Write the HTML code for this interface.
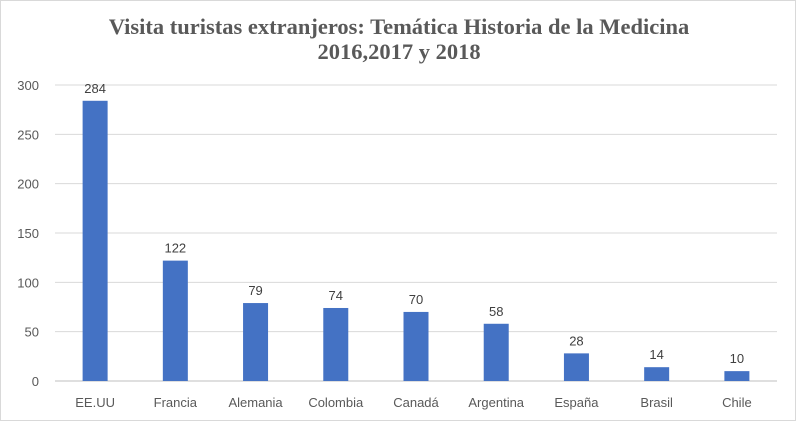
<!DOCTYPE html>
<html><head><meta charset="utf-8">
<style>
html,body{margin:0;padding:0;background:#fff;}
#wrap{width:796px;height:421px;position:relative;box-sizing:border-box;border:1px solid #d9d9d9;}
svg{position:absolute;left:0;top:0;}
</style></head>
<body>
<div id="wrap">
<svg id="chart" width="796" height="421">
<text x="398" y="33" text-anchor="middle" font-family="Liberation Serif, serif" font-weight="bold" font-size="22.5" fill="#595959">Visita turistas extranjeros: Temática Historia de la Medicina</text>
<text x="398" y="58" text-anchor="middle" font-family="Liberation Serif, serif" font-weight="bold" font-size="22.5" fill="#595959">2016,2017 y 2018</text>
</svg>
</div>
<script>
const categories = ["EE.UU","Francia","Alemania","Colombia","Canadá","Argentina","España","Brasil","Chile"];
const values = [284,122,79,74,70,58,28,14,10];
const yTicks = [0,50,100,150,200,250,300];

const svg = document.getElementById('chart');
const NS = 'http://www.w3.org/2000/svg';
const plotL = 54, plotR = 776, y0 = 380, yTop = 84, yMax = 300;
const band = (plotR - plotL) / categories.length;
const barW = 25;
function yScale(v){ return y0 - (v / yMax) * (y0 - yTop); }
function xCenter(i){ return plotL + band * i + band / 2; }
function mk(tag, attrs){ const e = document.createElementNS(NS, tag); for (const k in attrs) e.setAttribute(k, attrs[k]); svg.appendChild(e); return e; }
const font = 'Liberation Sans, sans-serif';

yTicks.forEach(t => {
  const y = yScale(t);
  const g = mk('line', {x1: plotL, x2: plotR, y1: y, y2: y, stroke: t === 0 ? '#bfbfbf' : '#d9d9d9', 'stroke-width': 1});
  
  
  const lb = mk('text', {x: 38, y: y + 5, 'text-anchor': 'end', 'font-family': font, 'font-size': 13, fill: '#595959'});
  lb.textContent = t;
  
  
});

categories.forEach((c, i) => {
  const cx = xCenter(i), v = values[i], y = yScale(v);
  const r = mk('rect', {x: cx - barW / 2, y: y, width: barW, height: y0 - y, fill: '#4472c4'});
  
  
  const vl = mk('text', {x: cx, y: y - 8, 'text-anchor': 'middle', 'font-family': font, 'font-size': 13, fill: '#404040'});
  vl.textContent = v;
  
  
  const xl = mk('text', {x: cx, y: 406, 'text-anchor': 'middle', 'font-family': font, 'font-size': 13, fill: '#595959'});
  xl.textContent = c;
  
  
});
</script>
</body></html>
